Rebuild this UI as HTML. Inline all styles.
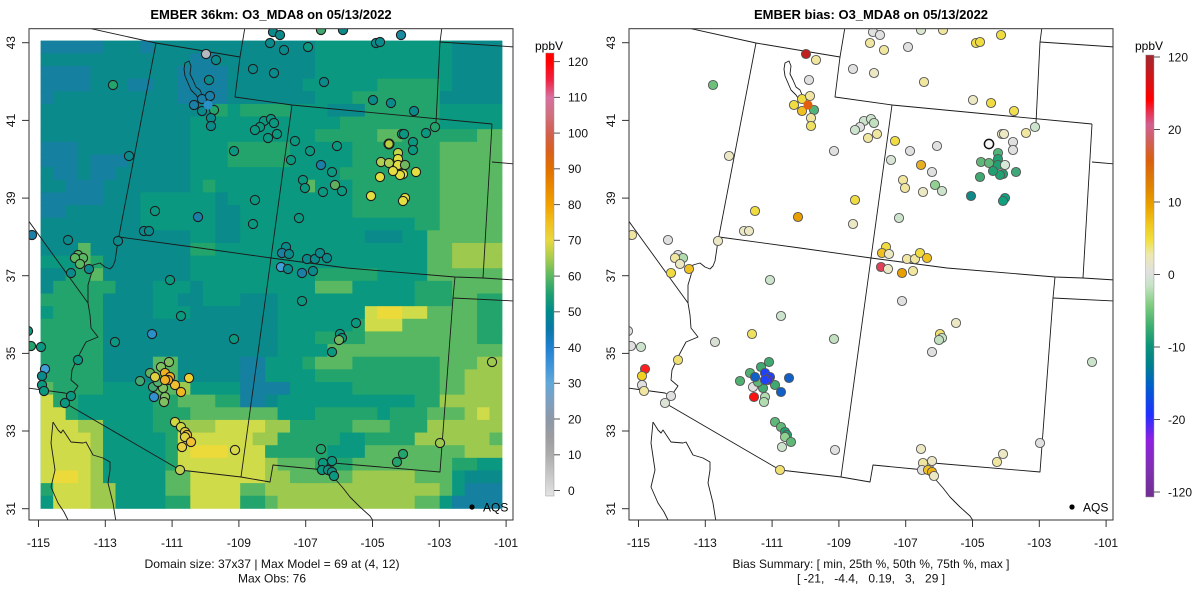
<!DOCTYPE html>
<html><head><meta charset="utf-8">
<style>
html,body{margin:0;padding:0;background:#fff;width:1200px;height:600px;overflow:hidden;}
svg{display:block;font-family:"Liberation Sans",Arial,sans-serif;}
</style></head>
<body>
<svg id="s" width="1200" height="600" viewBox="0 0 1200 600" xmlns="http://www.w3.org/2000/svg">
<defs>
<clipPath id="cl"><rect x="29" y="28.7" width="484" height="491.3"/></clipPath>
<clipPath id="cr"><rect x="629" y="28.7" width="484" height="491.3"/></clipPath>
<linearGradient id="gl" x1="0" y1="0" x2="0" y2="1">
<stop offset="0" stop-color="#ff0000"/><stop offset="0.019" stop-color="#ff0000"/>
<stop offset="0.060" stop-color="#f02040"/><stop offset="0.100" stop-color="#d870a0"/>
<stop offset="0.140" stop-color="#d07080"/><stop offset="0.181" stop-color="#d06050"/>
<stop offset="0.221" stop-color="#d86020"/><stop offset="0.261" stop-color="#e07000"/>
<stop offset="0.302" stop-color="#e88800"/><stop offset="0.342" stop-color="#f0a000"/>
<stop offset="0.383" stop-color="#f0c020"/><stop offset="0.423" stop-color="#e8d840"/>
<stop offset="0.463" stop-color="#a8cc50"/><stop offset="0.504" stop-color="#5ab862"/>
<stop offset="0.544" stop-color="#20a070"/><stop offset="0.584" stop-color="#008b8b"/>
<stop offset="0.624" stop-color="#0a78a8"/><stop offset="0.665" stop-color="#2080d0"/>
<stop offset="0.705" stop-color="#3e94d8"/><stop offset="0.745" stop-color="#60a8d8"/>
<stop offset="0.786" stop-color="#7ea0c0"/><stop offset="0.826" stop-color="#8c98a8"/>
<stop offset="0.866" stop-color="#9c9ca0"/><stop offset="0.907" stop-color="#acacac"/>
<stop offset="0.947" stop-color="#c4c4c4"/><stop offset="0.988" stop-color="#dcdcdc"/>
<stop offset="1" stop-color="#e4e4e4"/>
</linearGradient>
<linearGradient id="gr" x1="0" y1="0" x2="0" y2="1">
<stop offset="0" stop-color="#a02830"/><stop offset="0.034" stop-color="#c01c20"/>
<stop offset="0.102" stop-color="#ff0000"/><stop offset="0.129" stop-color="#e83050"/>
<stop offset="0.158" stop-color="#d06090"/><stop offset="0.192" stop-color="#d06060"/>
<stop offset="0.238" stop-color="#d86010"/><stop offset="0.305" stop-color="#e08800"/>
<stop offset="0.339" stop-color="#e8a000"/><stop offset="0.385" stop-color="#f0c820"/>
<stop offset="0.419" stop-color="#f0e040"/><stop offset="0.452" stop-color="#eee8b0"/>
<stop offset="0.491" stop-color="#e0e0e0"/><stop offset="0.520" stop-color="#c8e4c8"/>
<stop offset="0.566" stop-color="#80cc80"/><stop offset="0.611" stop-color="#40b070"/>
<stop offset="0.656" stop-color="#109478"/><stop offset="0.701" stop-color="#00808c"/>
<stop offset="0.747" stop-color="#0060c8"/><stop offset="0.814" stop-color="#2030ff"/>
<stop offset="0.871" stop-color="#9020e0"/><stop offset="0.939" stop-color="#8030b0"/>
<stop offset="1" stop-color="#703090"/>
</linearGradient>
<g id="map" fill="none" stroke="#1a1a1a" stroke-width="0.9" stroke-linejoin="round">
<polyline points="88,28 156,43 240,57"/>
<polyline points="245,27 240,57 235,97 292,105 492,124"/>
<polyline points="156,43 118,241"/>
<polyline points="292,105 271,258 241,477"/>
<polyline points="119,237 200,248 271,258 347,268 455,277 483,278 515,280"/>
<polyline points="442,27 440,42 436,123"/>
<polyline points="440,42 515,47"/>
<polyline points="492,124 483,278"/>
<polyline points="492,162 515,164"/>
<polyline points="455,277 453,298 440,472 333,463"/>
<polyline points="453,298 515,301"/>
<polyline points="118,241 115,261 113,266 110,269 105,267 100,263 93,265 91,275 88,285 88,303"/>
<polyline points="20,209 88,303"/>
<polyline points="88,303 90,315 91,328 98,337 86,342 78,357 72,370 71,380 78,386 71,396 65,403"/>
<polyline points="20,387 65,393 71,396"/>
<polyline points="65,403 180,470 241,477 270,482 273,465 325,470 333,471"/>
<polyline points="333,463 333,472 336,480 343,488 350,497 360,507 370,516 374,522"/>
<polyline points="53,422 58,430 61,433 63,430 71,442 83,443 86,442 93,455 103,458 110,462 110,470 108,483 113,503 116,522"/>
<polyline points="53,422 51,443 55,470 51,487 58,503 64,512 69,522"/>
<polygon points="185,63 189,61 191,66 190,74 193,80 196,87 200,90 203,97 205,103 200,101 196,95 191,90 188,83 185,76 184,69"/>
</g>
</defs>
<rect width="1200" height="600" fill="#fff"/>

<!-- titles -->
<text x="271" y="19" font-size="13" font-weight="bold" text-anchor="middle">EMBER 36km: O3_MDA8 on 05/13/2022</text>
<text x="871" y="19" font-size="13" font-weight="bold" text-anchor="middle">EMBER bias: O3_MDA8 on 05/13/2022</text>

<!-- left panel -->
<g clip-path="url(#cl)">
<g id="grid"><rect x="40.7" y="40.7" width="461.3" height="467.7" fill="#0b9880"/></g>
<use href="#map"/>
<g id="ptsL"></g>
<circle cx="472" cy="507" r="2.6" fill="#000"/>
</g>
<text x="483" y="511.5" font-size="12">AQS</text>
<rect x="29" y="28.7" width="484" height="491.3" fill="none" stroke="#333" stroke-width="1"/>

<!-- right panel -->
<g clip-path="url(#cr)">
<use href="#map" x="600"/>
<g id="ptsR"></g>
<circle cx="1072" cy="507" r="2.6" fill="#000"/>
</g>
<text x="1083" y="511.5" font-size="12">AQS</text>
<rect x="629" y="28.7" width="484" height="491.3" fill="none" stroke="#333" stroke-width="1"/>

<!-- axes ticks -->
<g stroke="#333" stroke-width="1">
<line x1="22" y1="508.7" x2="29" y2="508.7"/><line x1="22" y1="431" x2="29" y2="431"/><line x1="22" y1="353.4" x2="29" y2="353.4"/><line x1="22" y1="275.7" x2="29" y2="275.7"/><line x1="22" y1="198.1" x2="29" y2="198.1"/><line x1="22" y1="120.4" x2="29" y2="120.4"/><line x1="22" y1="42.7" x2="29" y2="42.7"/>
<line x1="622" y1="508.7" x2="629" y2="508.7"/><line x1="622" y1="431" x2="629" y2="431"/><line x1="622" y1="353.4" x2="629" y2="353.4"/><line x1="622" y1="275.7" x2="629" y2="275.7"/><line x1="622" y1="198.1" x2="629" y2="198.1"/><line x1="622" y1="120.4" x2="629" y2="120.4"/><line x1="622" y1="42.7" x2="629" y2="42.7"/>
<line x1="38.5" y1="520" x2="38.5" y2="527"/><line x1="105.3" y1="520" x2="105.3" y2="527"/><line x1="172.1" y1="520" x2="172.1" y2="527"/><line x1="238.9" y1="520" x2="238.9" y2="527"/><line x1="305.7" y1="520" x2="305.7" y2="527"/><line x1="372.5" y1="520" x2="372.5" y2="527"/><line x1="439.3" y1="520" x2="439.3" y2="527"/><line x1="506.1" y1="520" x2="506.1" y2="527"/>
<line x1="638.5" y1="520" x2="638.5" y2="527"/><line x1="705.3" y1="520" x2="705.3" y2="527"/><line x1="772.1" y1="520" x2="772.1" y2="527"/><line x1="838.9" y1="520" x2="838.9" y2="527"/><line x1="905.7" y1="520" x2="905.7" y2="527"/><line x1="972.5" y1="520" x2="972.5" y2="527"/><line x1="1039.3" y1="520" x2="1039.3" y2="527"/><line x1="1106.1" y1="520" x2="1106.1" y2="527"/>
</g>
<g font-size="12" text-anchor="middle" fill="#111">
<text x="38.5" y="547">-115</text><text x="105.3" y="547">-113</text><text x="172.1" y="547">-111</text><text x="238.9" y="547">-109</text><text x="305.7" y="547">-107</text><text x="372.5" y="547">-105</text><text x="439.3" y="547">-103</text><text x="506.1" y="547">-101</text>
<text x="638.5" y="547">-115</text><text x="705.3" y="547">-113</text><text x="772.1" y="547">-111</text><text x="838.9" y="547">-109</text><text x="905.7" y="547">-107</text><text x="972.5" y="547">-105</text><text x="1039.3" y="547">-103</text><text x="1106.1" y="547">-101</text>
<text transform="translate(15,508.7) rotate(-90)">31</text><text transform="translate(15,431) rotate(-90)">33</text><text transform="translate(15,353.4) rotate(-90)">35</text><text transform="translate(15,275.7) rotate(-90)">37</text><text transform="translate(15,198.1) rotate(-90)">39</text><text transform="translate(15,120.4) rotate(-90)">41</text><text transform="translate(15,42.7) rotate(-90)">43</text>
<text transform="translate(615,508.7) rotate(-90)">31</text><text transform="translate(615,431) rotate(-90)">33</text><text transform="translate(615,353.4) rotate(-90)">35</text><text transform="translate(615,275.7) rotate(-90)">37</text><text transform="translate(615,198.1) rotate(-90)">39</text><text transform="translate(615,120.4) rotate(-90)">41</text><text transform="translate(615,42.7) rotate(-90)">43</text>
</g>

<!-- bottom text -->
<g font-size="12" text-anchor="middle" fill="#111">
<text x="272" y="568" textLength="255" lengthAdjust="spacingAndGlyphs">Domain size: 37x37 | Max Model = 69 at (4, 12)</text>
<text x="272" y="582.5">Max Obs: 76</text>
<text x="871" y="568" textLength="277" lengthAdjust="spacingAndGlyphs">Bias Summary: [ min, 25th %, 50th %, 75th %, max ]</text>
<text x="871" y="582.5" xml:space="preserve">[ -21,   -4.4,   0.19,   3,   29 ]</text>
</g>

<!-- colorbar left -->
<text x="549" y="50" font-size="12" text-anchor="middle">ppbV</text>
<rect x="545.7" y="53" width="8.3" height="443" fill="url(#gl)" stroke="#999" stroke-width="0.5"/>
<g stroke="#555" stroke-width="1">
<line x1="554" y1="490.5" x2="560" y2="490.5"/><line x1="554" y1="454.8" x2="560" y2="454.8"/><line x1="554" y1="419" x2="560" y2="419"/><line x1="554" y1="383.3" x2="560" y2="383.3"/><line x1="554" y1="347.5" x2="560" y2="347.5"/><line x1="554" y1="311.8" x2="560" y2="311.8"/><line x1="554" y1="276.1" x2="560" y2="276.1"/><line x1="554" y1="240.3" x2="560" y2="240.3"/><line x1="554" y1="204.6" x2="560" y2="204.6"/><line x1="554" y1="168.8" x2="560" y2="168.8"/><line x1="554" y1="133.1" x2="560" y2="133.1"/><line x1="554" y1="97.4" x2="560" y2="97.4"/><line x1="554" y1="61.6" x2="560" y2="61.6"/>
</g>
<g font-size="12" fill="#111">
<text x="568" y="494.8">0</text><text x="568" y="459.1">10</text><text x="568" y="423.3">20</text><text x="568" y="387.6">30</text><text x="568" y="351.8">40</text><text x="568" y="316.1">50</text><text x="568" y="280.4">60</text><text x="568" y="244.6">70</text><text x="568" y="208.9">80</text><text x="568" y="173.1">90</text><text x="568" y="137.4">100</text><text x="568" y="101.7">110</text><text x="568" y="65.9">120</text>
</g>

<!-- colorbar right -->
<text x="1149" y="50" font-size="12" text-anchor="middle">ppbV</text>
<rect x="1145.7" y="55" width="8.3" height="442" fill="url(#gr)" stroke="#999" stroke-width="0.5"/>
<g stroke="#555" stroke-width="1">
<line x1="1154" y1="57" x2="1160" y2="57"/><line x1="1154" y1="129.5" x2="1160" y2="129.5"/><line x1="1154" y1="202" x2="1160" y2="202"/><line x1="1154" y1="274.5" x2="1160" y2="274.5"/><line x1="1154" y1="347" x2="1160" y2="347"/><line x1="1154" y1="419.5" x2="1160" y2="419.5"/><line x1="1154" y1="492" x2="1160" y2="492"/>
</g>
<g font-size="12" fill="#111">
<text x="1168" y="61.3">120</text><text x="1168" y="133.8">20</text><text x="1168" y="206.3">10</text><text x="1168" y="278.8">0</text><text x="1168" y="351.3">-10</text><text x="1168" y="423.8">-20</text><text x="1168" y="496.3">-120</text>
</g>
</svg>

<script>
(function(){
var NS="http://www.w3.org/2000/svg";
var rows=["5a3b1a13b11c4b","12b2a8b11c4b","4a7b4a7b11c4b","4a3b2a2b4a6b6c5d1c4b","1a10b4a7b3c7d5b",
"14b1d1c4d3c3b6d5c","12b12c8d5c","12b10c5d2e6d2e","3a9b3c5d5c7d5e","3a1b3a5b3c5d5c7d5e",
"1b2a1b2a6b12c8d5e","2b3a7b1c1d7c1e3c7d5e","5a3b6c1b10c7d5e","2a6b6c2b9c7d5e","8b6c2b14c2d5e",
"12b2c2b10c3b2c6e","3b1e8b2d17c2e4f","3c1e1d7b19c2e4f","2b2d1e7b10c5d4c6e","1b5d3b3c1b9c3e5c3d4e",
"5d4b2c2b3c3b11c3d2e2d","1c4d4b3c7b7c1g2h2g4e2d","5d14b6c1d3g6e2d","5d14b3c4d9e2d","5d14b4c14e",
"5d4b2e5b2a3c1d3e7d3e2f","5d4b2e5b2a4c10d2e3f","1e4d4c2e1f4c4a5c7d2e3f","1g2d6c2d3e2d2a1b11c2d5f",
"2g1d6c3d7e3c5d1c3d3e1f1g1f","3g2f4c2d3f4g2f5d3e3d6f","4g1f5c1d6g2f5d2c4d6f1e","4g1f5c1d1g3h3g5d3c8e3f",
"4g1f5c1d7g1f3e3d8e2d2c","1g2h1g1f5c2e6g2f5e5f3e1c3b","1d3g2f4c2e4g2e14f1e1c3a","1c3g2f4c2d4g2d1e11f2e1c4a"];
var col={a:"#15809f",b:"#0b8a8b",c:"#0b9880",d:"#22a46c",e:"#5ab862",f:"#9dc94e",g:"#cfdb48",h:"#ecd93a"};
var x0=40.7,y0=40.7,cw=(502-40.7)/37,ch=(508.4-40.7)/37;
var grid=document.getElementById("grid");
for(var r=0;r<rows.length;r++){
  var re=/(\d+)([a-h])/g,m,c=0;
  while((m=re.exec(rows[r]))!==null){
    var n=parseInt(m[1],10);
    if(c>=37)break;
    if(c+n>37)n=37-c;
    var el=document.createElementNS(NS,"rect");
    el.setAttribute("x",(x0+c*cw).toFixed(2));
    el.setAttribute("y",(y0+r*ch).toFixed(2));
    el.setAttribute("width",(n*cw+0.4).toFixed(2));
    el.setAttribute("height",(ch+0.4).toFixed(2));
    el.setAttribute("fill",col[m[2]]);
    grid.appendChild(el);
    c+=n;
  }
}
var T="#0b8a8b",C="#0b9880",D="#22a46c",E="#5ab862",F="#9dc94e",Y="#e3df40",B="#1a80a8";
var gy="#e0e0e0",be="#ece8c4",py="#f0e6a0",ye="#f0dc40",yo="#f0c020",or="#e8a000",orr="#e06010",rd="#ff1010",dr="#c02020",pk="#e04058",pg="#cce4cc",lg="#90d090",gn="#50b478",tg="#20a070",tl="#108a88",bl="#1060c8",bb="#2040ff";
var S=[
[113,85,D,"#6cc07c"],[206,54,"#b4b8bf",dr],[216,60,T,py],[209,80,T,gy],[194,105,B,ye],[202,99,B,ye],[210,96,B,py],
[214,110,D,gn],[202,111,T,yo],[211,118,T,py],[211,126,T,"#f0e060"],[208,105,"#2a90c8",orr,0],
[129,156,T,be],[234,151,C,gy],[155,211,C,ye],[198,217,B,or],[144,231,T,be],[149,231,T,be],
[255,200,C,ye],[253,224,C,be],[32,235,B,py],[68,240,T,gy],[118,241,T,be],
[78,255,E,gy],[83,258,E,"#b0dcb0"],[75,258,E,py],[80,264,E,be],[89,269,T,yo],[71,273,T,ye],
[270,43,T,py],[253,69,T,gy],[274,73,T,be],[273,32,T,gy],[280,35,T,gy],
[264,121,C,pg],[271,119,C,pg],[274,123,C,"#c0e0c0"],[260,127,C,gy],[255,130,C,pg],[268,138,C,py],[277,134,C,py],
[321,30,"#40a870","#dde8d0"],[343,30,T,py],[401,35,"#1a8aa0",ye],[376,43,T,ye],[380,42,T,ye],
[284,50,T,py],[308,47,C,gy],[324,82,T,py],[373,100,T,be],[391,103,T,ye],[414,111,T,"#f0e050"],
[435,127,D,pg],[426,133,C,py],[402,134,C,be],[404,134,C,be],[413,142,C,gy],[389,144,"#b8d040","#f8f8f8",2],
[413,150,C,gy],[398,153,"#c0d848",gn],[381,162,"#b0d050","#60b878"],[389,163,"#b0d050","#60b878"],
[398,159,Y,tg],[398,165,Y,tg],[405,165,"#70b860","#d8e8d8"],[403,174,Y,tg],[400,175,Y,tg],[393,171,Y,tg],
[416,172,Y,"#40a878"],[380,177,Y,"#40a870"],[371,196,Y,tl],[405,198,Y,"#10a080"],[403,201,Y,"#10a080"],
[295,141,C,ye],[310,151,C,gy],[337,146,C,gy],[291,160,C,"#d8e4d4"],[321,165,B,"#e8b020"],[332,172,C,gy],
[303,180,C,py],[305,188,C,py],[335,185,"#60b060",lg],[342,191,C,pg],[323,192,C,be],[299,218,C,pg],
[286,247,T,ye],[282,253,"#1a80a0",yo],[289,254,T,be],[307,259,T,py],[315,259,T,py],[320,253,T,ye],[327,258,T,yo],
[281,267,"#40a0d8",pk],[288,269,T,be],[302,273,B,or],[313,271,T,py],
[170,280,C,pg],[181,316,C,pg],[152,334,"#2a90c8","#f0e060"],[115,342,C,"#d8e0d4"],[234,339,C,"#c0e0c0"],
[28,331,C,gy],[31,346,D,gy],[41,347,C,pg],[78,360,C,"#f0e070"],[45,369,"#40a0d8","#ff2020"],[42,376,T,"#f0d020"],
[42,385,C,gy],[44,391,C,py],[71,396,C,gy],[65,403,C,"#dce4d8"],
[150,373,"#60b060","#50b070"],[161,367,"#80c060","#40a870"],[169,362,"#80c060","#40a870"],[140,381,"#40a870","#50b070"],
[153,387,"#40a870",gy],[163,388,"#80c060","#40a870"],[158,382,"#50b070","#60b878"],[155,377,"#e0d040",bl],
[175,385,"#f0c030","#40a870"],[189,378,"#f0d030",bl],[181,392,"#f0b820",bl],[165,373,"#f0b020",bb],
[170,377,"#f0b020",bb],[168,380,"#f0a820","#4030e0"],[165,380,"#f0b020",bb],[154,397,"#3090d0",rd],
[165,397,"#80c060","#b0dcb0"],[164,402,"#80c060","#b0dcb0"],
[175,422,"#d0d840","#60b878"],[181,427,"#d0d840","#60b878"],[185,432,"#e0c840",tg],[187,435,"#f0c030",tg],
[185,437,"#e0d040","#90d090"],[191,442,"#f0c030","#60b878"],[182,447,"#e8d040",pg],
[235,450,"#d8d848",gy],[180,470,"#c0d050","#f0e070"],
[302,301,C,gy],[356,323,C,be],[340,334,C,"#f0e070"],[342,338,C,"#c8e4c8"],[339,340,"#70b860","#c0e0c0"],
[332,352,C,gy],[492,362,F,pg],[440,443,F,gy],[321,449,D,be],[403,454,D,be],[397,462,D,py],
[323,463,C,py],[332,461,C,be],[322,470,C,gy],[328,470,"#109080","#f0c020"],[332,472,"#109080","#f0b010"],[334,476,C,be]
];
var gL=document.getElementById("ptsL"),gR=document.getElementById("ptsR");
function circ(g,x,y,fill,stroke,sw){
  var e=document.createElementNS(NS,"circle");
  e.setAttribute("cx",x);e.setAttribute("cy",y);e.setAttribute("r",4.6);
  e.setAttribute("fill",fill);
  if(sw>0){e.setAttribute("stroke",stroke);e.setAttribute("stroke-width",sw);}
  g.appendChild(e);
}
for(var i=0;i<S.length;i++){
  var s=S[i],flag=s[4];
  var swL=(flag===0)?0:(flag===2?1.8:1.1);
  var swR=(flag===0)?0:(flag===2?1.5:0.9);
  circ(gL,s[0],s[1],s[2],"#1e1e1e",swL);
  circ(gR,s[0]+600,s[1],s[3],flag===2?"#111":"#555",swR);
}
})();
</script>
</body></html>
